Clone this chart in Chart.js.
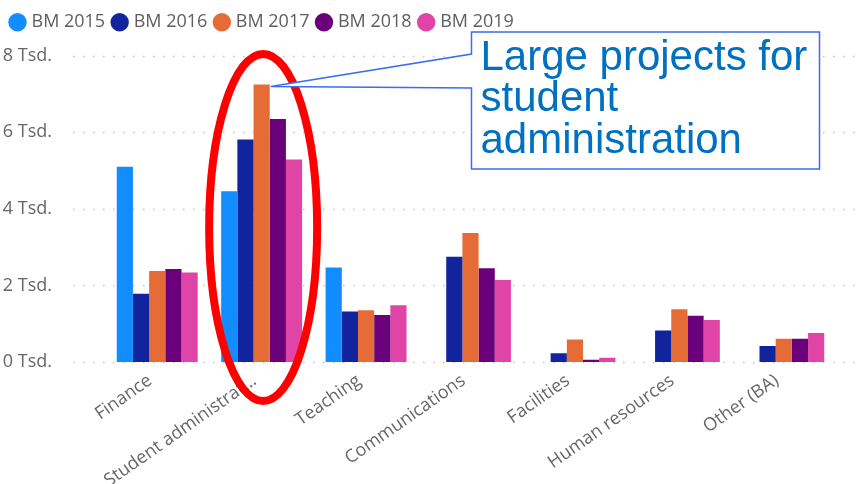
<!DOCTYPE html>
<html>
<head>
<meta charset="utf-8">
<script src="https://cdn.jsdelivr.net/npm/chart.js@4.4.1/dist/chart.umd.min.js"></script>
<style>
  html, body { margin: 0; padding: 0; background: #ffffff; }
  #wrap { width: 863px; height: 484px; }
</style>
</head>
<body>
<div id="wrap"><canvas id="myChart" width="863" height="484"></canvas></div>
<script>
const categories = ['Finance', 'Student administration', 'Teaching', 'Communications', 'Facilities', 'Human resources', 'Other (BA)'];

const bm2015 = [5.10, 4.46, 2.47, null, null, null, null];
const bm2016 = [1.78, 5.81, 1.32, 2.75, 0.23, 0.82, 0.42];
const bm2017 = [2.38, 7.25, 1.35, 3.37, 0.59, 1.38, 0.61];
const bm2018 = [2.43, 6.35, 1.23, 2.45, 0.06, 1.21, 0.61];
const bm2019 = [2.34, 5.29, 1.48, 2.14, 0.11, 1.10, 0.76];

const yTicks = [0, 2, 4, 6, 8];
const calloutLines = ['Large projects for', 'student', 'administration'];

const ctx = document.getElementById('myChart').getContext('2d');

// dotted horizontal grid, a bit wider than the plot area
const dotGrid = {
    id: 'dotGrid',
    beforeDatasetsDraw(chart) {
        const { ctx, chartArea, scales } = chart;
        ctx.save();
        ctx.strokeStyle = '#c4c4c4';
        ctx.lineWidth = 1.5;
        ctx.setLineDash([1.5, 8.5]);
        yTicks.forEach(v => {
            const y = Math.round(scales.y.getPixelForValue(v)) + 0.5;
            ctx.beginPath();
            ctx.moveTo(chartArea.left - 32, y);
            ctx.lineTo(chartArea.right + 22, y);
            ctx.stroke();
        });
        ctx.restore();
    }
};

// fixed legend band height
const legendBand = {
    id: 'legendBand',
    beforeLayout(chart) {
        const legend = chart.legend;
        if (legend && !legend._banded) {
            const fit = legend.fit;
            legend.fit = function () { fit.call(this); this.height = 52; };
            legend._banded = true;
        }
    }
};

// red ring round the student administration group + callout box
const highlight = {
    id: 'highlight',
    afterDatasetsDraw(chart) {
        const { ctx, scales } = chart;
        const cx = scales.x.getPixelForValue(1) + 1.5;
        const top = scales.y.getPixelForValue(8.05);
        const bottom = scales.y.getPixelForValue(-1.02);
        ctx.save();
        ctx.strokeStyle = '#ff0000';
        ctx.lineWidth = 8;
        ctx.beginPath();
        ctx.ellipse(cx, (top + bottom) / 2, 54, (bottom - top) / 2, 0, 0, Math.PI * 2);
        ctx.stroke();
        ctx.restore();

        const bar = chart.getDatasetMeta(2).data[1];
        const tipX = bar.x + bar.width / 2 + 1;
        const tipY = bar.y + 2;
        const bx = 471.5, by = 32, bw = 348, bh = 137;
        ctx.save();
        ctx.beginPath();
        ctx.moveTo(bx, by);
        ctx.lineTo(bx, by + 22);
        ctx.lineTo(tipX, tipY);
        ctx.lineTo(bx, by + 56);
        ctx.lineTo(bx, by + bh);
        ctx.lineTo(bx + bw, by + bh);
        ctx.lineTo(bx + bw, by);
        ctx.closePath();
        ctx.fillStyle = '#ffffff';
        ctx.fill();
        ctx.strokeStyle = '#3a6cf4';
        ctx.lineWidth = 1.5;
        ctx.stroke();

        ctx.fillStyle = '#0070c0';
        ctx.font = '42px "Liberation Sans", Arial, sans-serif';
        ctx.textBaseline = 'alphabetic';
        ctx.textAlign = 'left';
        calloutLines.forEach((t, i) => {
            ctx.fillText(t, bx + 9, by + 38 + i * 41.3);
        });
        ctx.restore();
    }
};

const myChart = new Chart(ctx, {
    type: 'bar',
    data: {
        labels: categories,
        datasets: [
            { label: 'BM 2015', data: bm2015, backgroundColor: '#118dff' },
            { label: 'BM 2016', data: bm2016, backgroundColor: '#12239e' },
            { label: 'BM 2017', data: bm2017, backgroundColor: '#e66c37' },
            { label: 'BM 2018', data: bm2018, backgroundColor: '#6b007b' },
            { label: 'BM 2019', data: bm2019, backgroundColor: '#e044a7' }
        ]
    },
    options: {
        responsive: false,
        animation: false,
        datasets: {
            bar: { categoryPercentage: 0.775, barPercentage: 1.0, borderWidth: 0 }
        },
        layout: { padding: { left: 3, right: 27, top: 0, bottom: 0 } },
        plugins: {
            legend: {
                position: 'top',
                align: 'start',
                labels: {
                    usePointStyle: true,
                    pointStyle: 'circle',
                    boxWidth: 10,
                    boxHeight: 13,
                    padding: 9.5,
                    color: '#605e5c',
                    font: { family: '"Open Sans", sans-serif', size: 18 }
                }
            },
            tooltip: { enabled: false }
        },
        scales: {
            x: {
                grid: { display: false },
                border: { display: false },
                ticks: {
                    autoSkip: false,
                    minRotation: 35,
                    maxRotation: 35,
                    padding: 0,
                    labelOffset: -7,
                    color: '#666666',
                    font: { family: '"Open Sans", sans-serif', size: 18 },
                    callback: function (value) {
                        const l = this.getLabelForValue(value);
                        return l.length > 20 ? l.slice(0, 19) + '…' : l;
                    }
                },
                afterFit: (scale) => { scale.height = 122; }
            },
            y: {
                min: 0,
                max: 8,
                grid: { display: false },
                border: { display: false },
                ticks: {
                    stepSize: 2,
                    padding: 45,
                    color: '#666666',
                    font: { family: '"Open Sans", sans-serif', size: 18 },
                    callback: (v) => v + ' Tsd.'
                },
                afterFit: (scale) => { scale.width = 102; }
            }
        }
    },
    plugins: [legendBand, dotGrid, highlight]
});
</script>
</body>
</html>
